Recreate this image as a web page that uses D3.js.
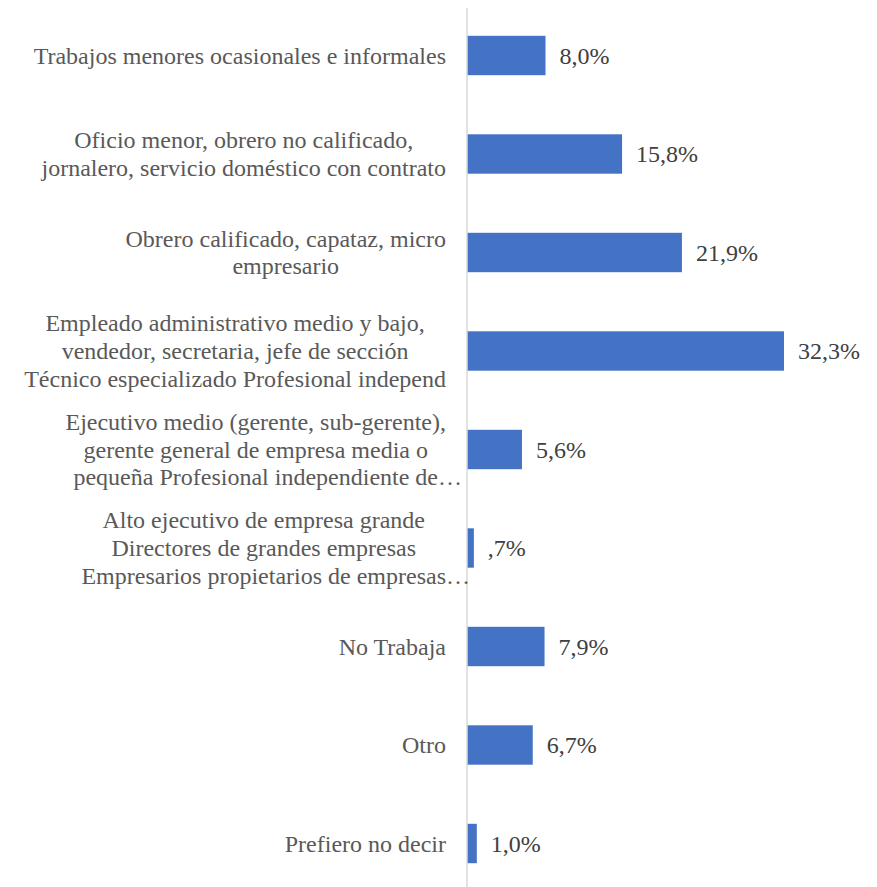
<!DOCTYPE html>
<html>
<head>
<meta charset="utf-8">
<script src="https://cdn.jsdelivr.net/npm/d3@7"></script>
<style>
  html, body { margin: 0; padding: 0; background: #ffffff; }
  svg { display: block; }
</style>
</head>
<body>
<svg id="chart" width="877" height="887"></svg>
<script>
// Occupation categories (each entry is the wrapped label, one string per line)
const categories = [
  ["Trabajos menores ocasionales e informales"],
  ["Oficio menor, obrero no calificado,", "jornalero, servicio doméstico con contrato"],
  ["Obrero calificado, capataz, micro", "empresario"],
  ["Empleado administrativo medio y bajo,", "vendedor, secretaria, jefe de sección", "Técnico especializado Profesional independ"],
  ["Ejecutivo medio (gerente, sub-gerente),", "gerente general de empresa media o", "pequeña Profesional independiente de…"],
  ["Alto ejecutivo de empresa grande", "Directores de grandes empresas", "Empresarios propietarios de empresas…"],
  ["No Trabaja"],
  ["Otro"],
  ["Prefiero no decir"]
];

// Share of respondents per category (%)
const values = [8.0, 15.8, 21.9, 32.3, 5.6, 0.7, 7.9, 6.7, 1.0];

const W = 877, H = 887;
const axisX = 467;
const labelRight = 446;
const fontSize = 24;
const lineHeight = 27.6;
const font = "'Liberation Serif', 'Times New Roman', serif";

const svg = d3.select("#chart");

const ids = categories.map((c, i) => i);
const y = d3.scalePoint().domain(ids).range([55.5, 843.5]);
const step = y.step();
const barH = step * 0.4;

const x = d3.scaleLinear().domain([0, 32.3]).range([axisX, 784]);

// Spanish-style percent label: comma decimal, no leading zero below 1
const fmt = v => d3.format(".1f")(v).replace(".", ",").replace(/^0/, "") + "%";

// Bars
svg.append("g").selectAll("rect")
  .data(values)
  .join("rect")
  .attr("x", x(0))
  .attr("y", (d, i) => y(i) - barH / 2)
  .attr("width", d => x(d) - x(0))
  .attr("height", barH)
  .attr("fill", "#4472C4");

// Vertical category axis line
svg.append("line")
  .attr("x1", axisX).attr("x2", axisX)
  .attr("y1", 8).attr("y2", H)
  .attr("stroke", "#d9d9d9")
  .attr("stroke-width", 1.5);

// Value labels
svg.append("g").selectAll("text")
  .data(values)
  .join("text")
  .attr("x", d => x(d) + 14)
  .attr("y", (d, i) => y(i) + 8)
  .attr("font-family", font)
  .attr("font-size", fontSize)
  .attr("fill", "#404040")
  .text(d => fmt(d));

// Category labels: lines centred on a shared centre, block right-aligned to the axis
const measurer = svg.append("text")
  .attr("font-family", font)
  .attr("font-size", fontSize)
  .attr("visibility", "hidden");
const measure = s => { measurer.text(s); return measurer.node().getComputedTextLength(); };

const labelG = svg.append("g");
categories.forEach((lines, i) => {
  const widths = lines.map(l => measure(l.replace(/…$/, "")));
  const maxW = d3.max(widths);
  const cx = labelRight - maxW / 2;
  const n = lines.length;
  lines.forEach((line, j) => {
    labelG.append("text")
      .attr("x", cx - widths[j] / 2)
      .attr("y", y(i) + 8 + (j - (n - 1) / 2) * lineHeight)
      .attr("font-family", font)
      .attr("font-size", fontSize)
      .attr("fill", "#595959")
      .text(line);
  });
});
measurer.remove();
</script>
</body>
</html>
